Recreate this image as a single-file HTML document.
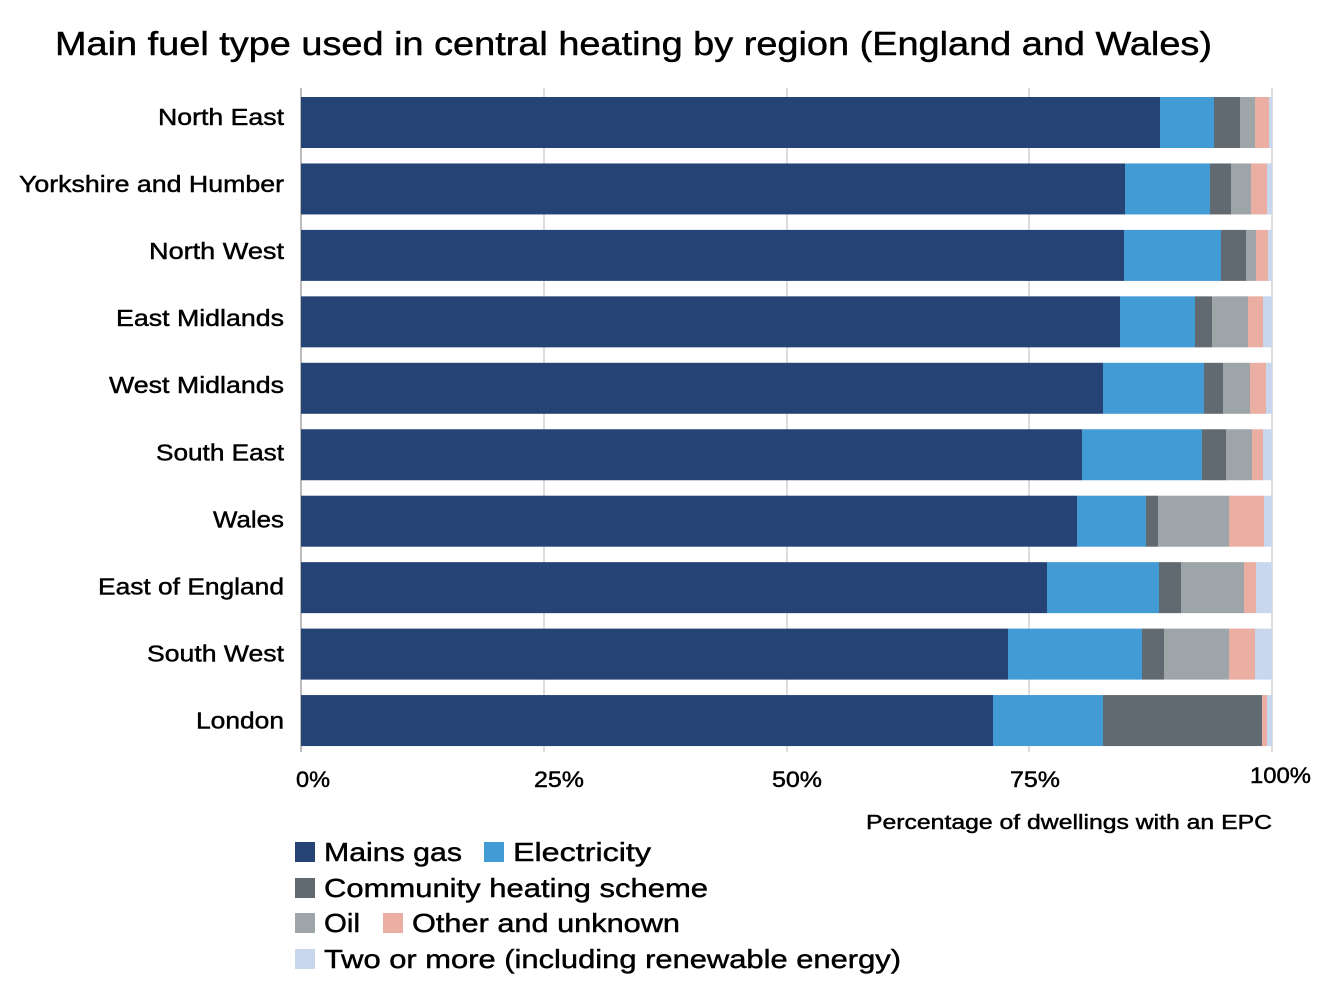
<!DOCTYPE html>
<html><head><meta charset="utf-8"><style>body{margin:0;background:#fff}svg{display:block;font-family:"Liberation Sans",sans-serif}text{stroke:#000;stroke-width:0.45px}</style></head><body>
<svg width="1342" height="1006" viewBox="0 0 1342 1006">
<text x="55" y="55" font-size="33" fill="#000" textLength="1157" lengthAdjust="spacingAndGlyphs">Main fuel type used in central heating by region (England and Wales)</text>
<g stroke="#ddd" stroke-width="2"><line x1="544" y1="88" x2="544" y2="752"/><line x1="787" y1="88" x2="787" y2="752"/><line x1="1029" y1="88" x2="1029" y2="752"/><line x1="1272" y1="88" x2="1272" y2="752"/></g>
<line x1="301" y1="88" x2="301" y2="752" stroke="#bbb" stroke-width="2"/>
<g id="bars"></g>
<g font-size="23" fill="#000" id="labels"></g>
<g font-size="22" fill="#000">
<text x="296" y="787" textLength="34" lengthAdjust="spacingAndGlyphs">0%</text>
<text x="534" y="787" textLength="50" lengthAdjust="spacingAndGlyphs">25%</text>
<text x="772" y="787" textLength="50" lengthAdjust="spacingAndGlyphs">50%</text>
<text x="1010" y="787" textLength="50" lengthAdjust="spacingAndGlyphs">75%</text>
<text x="1250" y="783" textLength="61" lengthAdjust="spacingAndGlyphs">100%</text></g>
<text x="866" y="829" font-size="20" textLength="406" lengthAdjust="spacingAndGlyphs">Percentage of dwellings with an EPC</text>
<g font-size="26" fill="#000">
<rect x="295" y="842" width="20" height="20" fill="#254475"/><text x="324" y="861" textLength="138" lengthAdjust="spacingAndGlyphs">Mains gas</text>
<rect x="484" y="842" width="20" height="20" fill="#439bd5"/><text x="513" y="861" textLength="138" lengthAdjust="spacingAndGlyphs">Electricity</text>
<rect x="295" y="878" width="20" height="20" fill="#616a71"/><text x="324" y="897" textLength="384" lengthAdjust="spacingAndGlyphs">Community heating scheme</text>
<rect x="295" y="913" width="20" height="20" fill="#9ea5a9"/><text x="324" y="932" textLength="36" lengthAdjust="spacingAndGlyphs">Oil</text>
<rect x="383" y="913" width="20" height="20" fill="#ebaea3"/><text x="412" y="932" textLength="268" lengthAdjust="spacingAndGlyphs">Other and unknown</text>
<rect x="295" y="949" width="20" height="20" fill="#c8d6ee"/><text x="324" y="968" textLength="577" lengthAdjust="spacingAndGlyphs">Two or more (including renewable energy)</text>
</g>
</svg>
<script>
var d=[["North East",[1160,1214,1240,1255,1269],126],["Yorkshire and Humber",[1125,1210,1231,1251,1267],265],["North West",[1124,1221,1246,1256,1268],135],["East Midlands",[1120,1195,1212,1248,1263],168],["West Midlands",[1103,1204,1223,1250,1266],175],["South East",[1082,1202,1226,1252,1263],128],["Wales",[1077,1146,1158,1229,1264],71],["East of England",[1047,1159,1181,1244,1256],186],["South West",[1008,1142,1164,1229,1255],137],["London",[993,1103,1262,1262,1267],88]];
var c=["#254475","#439bd5","#616a71","#9ea5a9","#ebaea3","#c8d6ee"];
var ns="http://www.w3.org/2000/svg",b=document.getElementById("bars"),l=document.getElementById("labels");
d.forEach(function(r,i){var y=97+i*66.45,xs=[301].concat(r[1]).concat([1272]);
for(var k=0;k<6;k++){var e=document.createElementNS(ns,"rect");e.setAttribute("x",xs[k]);e.setAttribute("y",y);e.setAttribute("width",Math.max(0,xs[k+1]-xs[k]));e.setAttribute("height",51);e.setAttribute("fill",c[k]);b.appendChild(e);}
var t=document.createElementNS(ns,"text");t.setAttribute("x",284-r[2]);t.setAttribute("y",y+28+i*0.6);t.setAttribute("textLength",r[2]);t.setAttribute("lengthAdjust","spacingAndGlyphs");t.textContent=r[0];l.appendChild(t);});
</script>
</body></html>
